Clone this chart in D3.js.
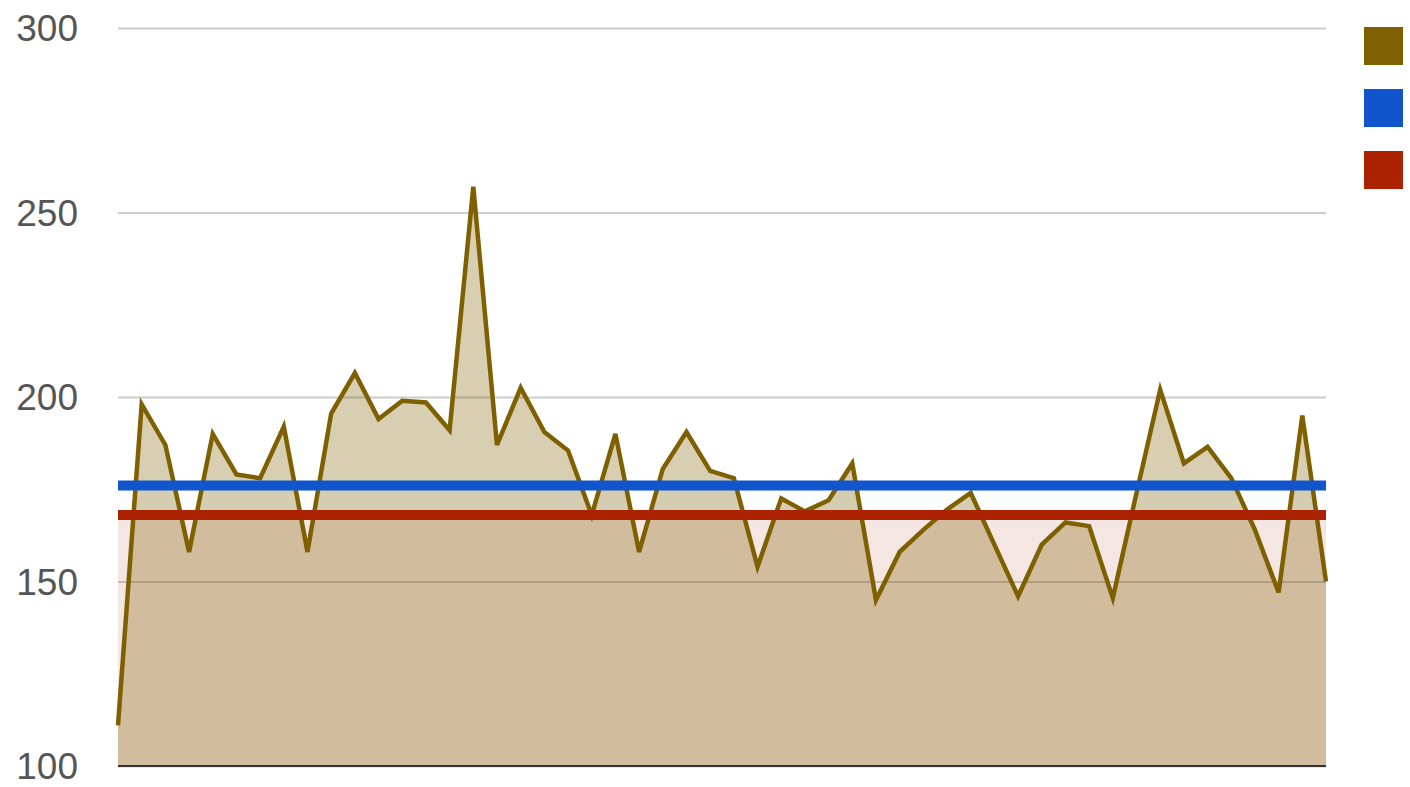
<!DOCTYPE html>
<html>
<head>
<meta charset="utf-8">
<script src="https://cdn.jsdelivr.net/npm/d3@7"></script>
<style>
	body { margin: 0; background: #fff; }
	svg { display: block; }
</style>
</head>
<body>
<svg id="chart"></svg>
<script>
// values
var values = [111, 198, 187, 158, 190, 179, 178, 192, 158, 195.5,
	206.5, 194, 199, 198.5, 191, 257, 187, 202.5, 190.5, 185.5,
	168, 190, 158, 180.5, 190.5, 180, 178, 154, 172.5, 169,
	172, 182, 145, 158, 164, 169.5, 174, 160, 146, 160,
	166, 165, 145.5, 174, 202, 182, 186.5, 178, 164, 147,
	195, 150]
var levels = [176, 168]          // blue and red reference lines
var yTicks = [100, 150, 200, 250, 300]
var seriesColors = ['#7f6000', '#1155cc', '#aa2200']
var fillColors = ['#7f6000', '#1155cc', '#c0401a']
var fillOpacity = [0.3, 0.012, 0.12]

var dim = {
	width: 1410,
	height: 787,
	left: 118,
	right: 1326,
	top: 28,
	bottom: 766
}

var svg = d3.select('#chart')
	.attr('width', dim.width)
	.attr('height', dim.height)

var x = d3.scaleLinear()
	.domain([0, values.length - 1])
	.range([dim.left, dim.right])

var y = d3.scaleLinear()
	.domain([100, 300])
	.range([dim.bottom, dim.top])

// gridlines + labels
var axis = svg.append('g')
	.attr('transform', 'translate(' + dim.left + ',0)')
	.call(d3.axisLeft(y)
		.tickValues(yTicks)
		.tickSizeInner(-(dim.right - dim.left))
		.tickSizeOuter(0)
		.tickPadding(40))
axis.select('.domain').remove()
axis.selectAll('line')
	.attr('stroke', '#cccccc')
	.attr('stroke-width', 2)
axis.selectAll('text')
	.attr('fill', '#555')
	.attr('font-family', 'Liberation Sans, Arial, sans-serif')
	.attr('font-size', 37)
	.attr('dy', '0.35em')

var area = d3.area()
	.x((d, i) => x(i))
	.y0(y(100))
	.y1(d => y(d))

var line = d3.line()
	.x((d, i) => x(i))
	.y(d => y(d))

// main series area
svg.append('path')
	.datum(values)
	.attr('d', area)
	.attr('fill', fillColors[0])
	.attr('fill-opacity', fillOpacity[0])

// level areas
levels.forEach(function(v, k) {
	svg.append('path')
		.datum([v, v])
		.attr('d', d3.area()
			.x((d, i) => x(i * (values.length - 1)))
			.y0(y(100))
			.y1(d => y(d)))
		.attr('fill', fillColors[k + 1])
		.attr('fill-opacity', fillOpacity[k + 1])
})

// baseline
svg.append('line')
	.attr('x1', dim.left)
	.attr('x2', dim.right)
	.attr('y1', y(100))
	.attr('y2', y(100))
	.attr('stroke', '#333')
	.attr('stroke-width', 2)

svg.append('path')
	.datum(values)
	.attr('d', line)
	.attr('fill', 'none')
	.attr('stroke', seriesColors[0])
	.attr('stroke-width', 4.5)
	.attr('stroke-linejoin', 'miter')

levels.forEach(function(v, k) {
	svg.append('line')
		.attr('x1', x(0))
		.attr('x2', x(values.length - 1))
		.attr('y1', y(v))
		.attr('y2', y(v))
		.attr('stroke', seriesColors[k + 1])
		.attr('stroke-width', 10)
})

// legend swatches (labels are cut off in the original)
svg.selectAll('rect.legend')
	.data(seriesColors)
	.enter()
	.append('rect')
		.attr('class', 'legend')
		.attr('x', 1364)
		.attr('y', (d, i) => 27 + i * 62)
		.attr('width', 39)
		.attr('height', 38)
		.attr('fill', d => d)
</script>
</body>
</html>
